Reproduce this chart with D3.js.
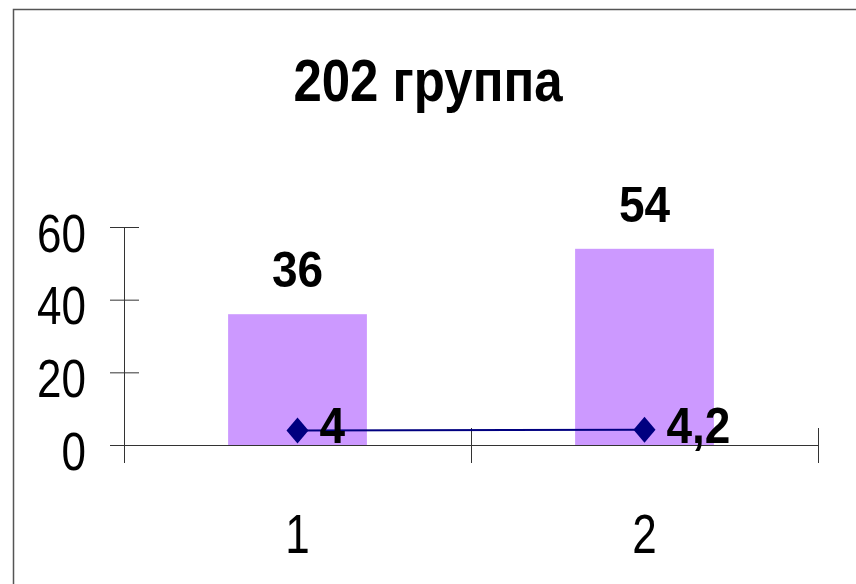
<!DOCTYPE html>
<html>
<head>
<meta charset="utf-8">
<script src="https://cdn.jsdelivr.net/npm/d3@7"></script>
<style>
    body { margin: 0; background: #fff; }
    text { font-family: "Liberation Sans", Arial, sans-serif; fill: #000; }
</style>
</head>
<body>
<div class="chart"></div>
<script>
// Chart data
const categories = ['1', '2'];
const barValues = [36, 54];
const lineValues = [4, 4.2];
const lineLabels = ['4', '4,2'];
const yTicks = [0, 20, 40, 60];
const title = '202 группа';

document.addEventListener('DOMContentLoaded', function() {
    drawChart();
});

function drawChart() {
    const width = 856;
    const height = 584;
    const plot = { left: 124, right: 818, top: 227, bottom: 445 };

    const svg = d3.select('.chart')
        .append('svg')
        .attr('width', width)
        .attr('height', height);

    // Outer frame (only top and left edges are visible)
    svg.append('rect')
        .attr('x', 13.5)
        .attr('y', 9.5)
        .attr('width', 1000)
        .attr('height', 1000)
        .attr('fill', 'none')
        .attr('stroke', '#555')
        .attr('stroke-width', 1.5);

    // Scales
    const xScale = d3.scaleBand()
        .domain(categories)
        .range([plot.left, plot.right])
        .padding(0);

    const yScale = d3.scaleLinear()
        .domain([0, 60])
        .range([plot.bottom, plot.top]);

    const cx = d => xScale(d) + xScale.bandwidth() / 2;
    const barWidth = xScale.bandwidth() * 0.4;

    // Title
    svg.append('text')
        .attr('text-anchor', 'middle')
        .attr('transform', 'translate(428,101) scale(1,1.15)')
        .style('font-size', '51px')
        .style('font-weight', 'bold')
        .text(title);

    // Bars
    svg.selectAll('.bar')
        .data(barValues)
        .enter()
        .append('rect')
        .attr('class', 'bar')
        .attr('x', (d, i) => cx(categories[i]) - barWidth / 2)
        .attr('y', d => yScale(d))
        .attr('width', barWidth)
        .attr('height', d => yScale(0) - yScale(d))
        .attr('fill', '#cc99ff');

    // Bar value labels
    svg.selectAll('.bar-label')
        .data(barValues)
        .enter()
        .append('text')
        .attr('class', 'bar-label')
        .attr('text-anchor', 'middle')
        .attr('transform', (d, i) => `translate(${cx(categories[i])},${yScale(d) - 27}) scale(1,1.1)`)
        .style('font-size', '46px')
        .style('font-weight', 'bold')
        .text(d => d);

    // Y axis with crossing ticks
    const yAxis = svg.append('g')
        .attr('transform', `translate(${plot.left},0)`)
        .call(d3.axisLeft(yScale).tickValues(yTicks).tickSize(14));

    yAxis.select('.domain').remove();
    yAxis.selectAll('.tick line')
        .attr('x1', 15)
        .attr('x2', -14)
        .attr('stroke', '#333');
    yAxis.selectAll('.tick text')
        .attr('x', -38)
        .attr('y', 20)
        .attr('dy', null)
        .attr('transform', 'scale(1,1.2)')
        .style('font-size', '44px')
        .style('font-family', '"Liberation Sans", Arial, sans-serif')
        .attr('fill', '#000');

    svg.append('line')
        .attr('x1', plot.left + 0.5)
        .attr('x2', plot.left + 0.5)
        .attr('y1', yScale(60))
        .attr('y2', yScale(0) + 18)
        .attr('stroke', '#333');

    // X axis line and category boundary ticks
    svg.append('line')
        .attr('x1', plot.left - 14)
        .attr('x2', plot.right)
        .attr('y1', yScale(0) + 0.5)
        .attr('y2', yScale(0) + 0.5)
        .attr('stroke', '#333');

    const edges = categories.map(c => xScale(c)).concat([xScale.range()[1]]);
    svg.selectAll('.x-tick')
        .data(edges)
        .enter()
        .append('line')
        .attr('class', 'x-tick')
        .attr('x1', d => d + 0.5)
        .attr('x2', d => d + 0.5)
        .attr('y1', yScale(0) - 17)
        .attr('y2', yScale(0) + 18)
        .attr('stroke', '#333');

    // X category labels
    svg.selectAll('.x-label')
        .data(categories)
        .enter()
        .append('text')
        .attr('class', 'x-label')
        .attr('text-anchor', 'middle')
        .attr('transform', d => `translate(${cx(d)},553) scale(1,1.25)`)
        .style('font-size', '44px')
        .text(d => d);

    // Line series
    const line = d3.line()
        .x((d, i) => cx(categories[i]))
        .y(d => yScale(d));

    svg.append('path')
        .datum(lineValues)
        .attr('d', line)
        .attr('fill', 'none')
        .attr('stroke', '#000080')
        .attr('stroke-width', 2);

    svg.selectAll('.marker')
        .data(lineValues)
        .enter()
        .append('path')
        .attr('class', 'marker')
        .attr('d', 'M0,-13L11,0L0,13L-11,0Z')
        .attr('transform', (d, i) => `translate(${cx(categories[i])},${yScale(d)})`)
        .attr('fill', '#000080');

    // Line value labels
    svg.selectAll('.line-label')
        .data(lineValues)
        .enter()
        .append('text')
        .attr('class', 'line-label')
        .attr('transform', (d, i) => `translate(${cx(categories[i]) + 22},${yScale(d) + 13}) scale(1,1.1)`)
        .style('font-size', '46px')
        .style('font-weight', 'bold')
        .text((d, i) => lineLabels[i]);
}
</script>
</body>
</html>
